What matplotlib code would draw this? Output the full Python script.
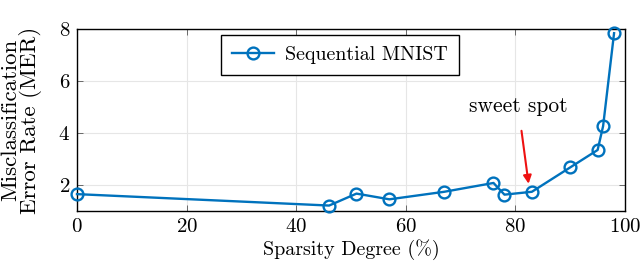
import matplotlib
matplotlib.use("Agg")
import matplotlib.pyplot as plt

sparsity = [0, 46, 51, 57, 67, 76, 78, 83, 90, 95, 96, 98]
mer = [1.65, 1.21, 1.67, 1.45, 1.74, 2.08, 1.63, 1.74, 2.68, 3.35, 4.27, 7.85]
series_label = "Sequential MNIST"
xticks = [0, 20, 40, 60, 80, 100]
yticks = [2, 4, 6, 8]

plt.rcParams['font.family'] = ['cmr10', 'DejaVu Serif']
plt.rcParams['axes.formatter.use_mathtext'] = True
plt.rcParams['mathtext.fontset'] = 'cm'

fig = plt.figure(figsize=(6.4, 2.68), dpi=100)
ax = fig.add_axes([0.1203, 0.2127, 0.8563, 0.678])
color = '#0072BD'
ax.plot(sparsity, mer, '-o', color=color, lw=1.7, ms=8.5, mfc='none', mew=1.7,
        label=series_label, zorder=3, clip_on=False)
ax.set_xlim(0, 100)
ax.set_ylim(1, 8)
ax.set_xticks(xticks)
ax.set_yticks(yticks)
ax.grid(True, color='#e6e6e6', lw=0.8)
ax.tick_params(direction='in', top=True, right=True, labelsize=15, length=4,
               width=0.6, color='#555555', pad=5)
for s in ax.spines.values():
    s.set_linewidth(1.0)
ax.set_xlabel('Sparsity Degree (%)', fontsize=14.4, labelpad=2)
ax.set_ylabel('Misclassification\nError Rate (MER)', fontsize=16.5, linespacing=0.95)
ax.yaxis.set_label_coords(-0.064, 0.5)
leg = ax.legend(loc='upper left', bbox_to_anchor=(0.263, 0.971), fontsize=14.4,
                fancybox=False, edgecolor='black', framealpha=1, handlelength=2.1,
                borderpad=0.55, handletextpad=0.55, borderaxespad=0)
leg.get_frame().set_linewidth(1.0)
ax.annotate('sweet spot', xy=(82.4, 2.05), xytext=(80.5, 5.05), fontsize=15.5,
            ha='center', va='center',
            arrowprops=dict(arrowstyle='-|>', color='#ee1111', lw=1.5,
                            mutation_scale=12, shrinkA=9, shrinkB=0))
fig.savefig('out.png', dpi=100)
